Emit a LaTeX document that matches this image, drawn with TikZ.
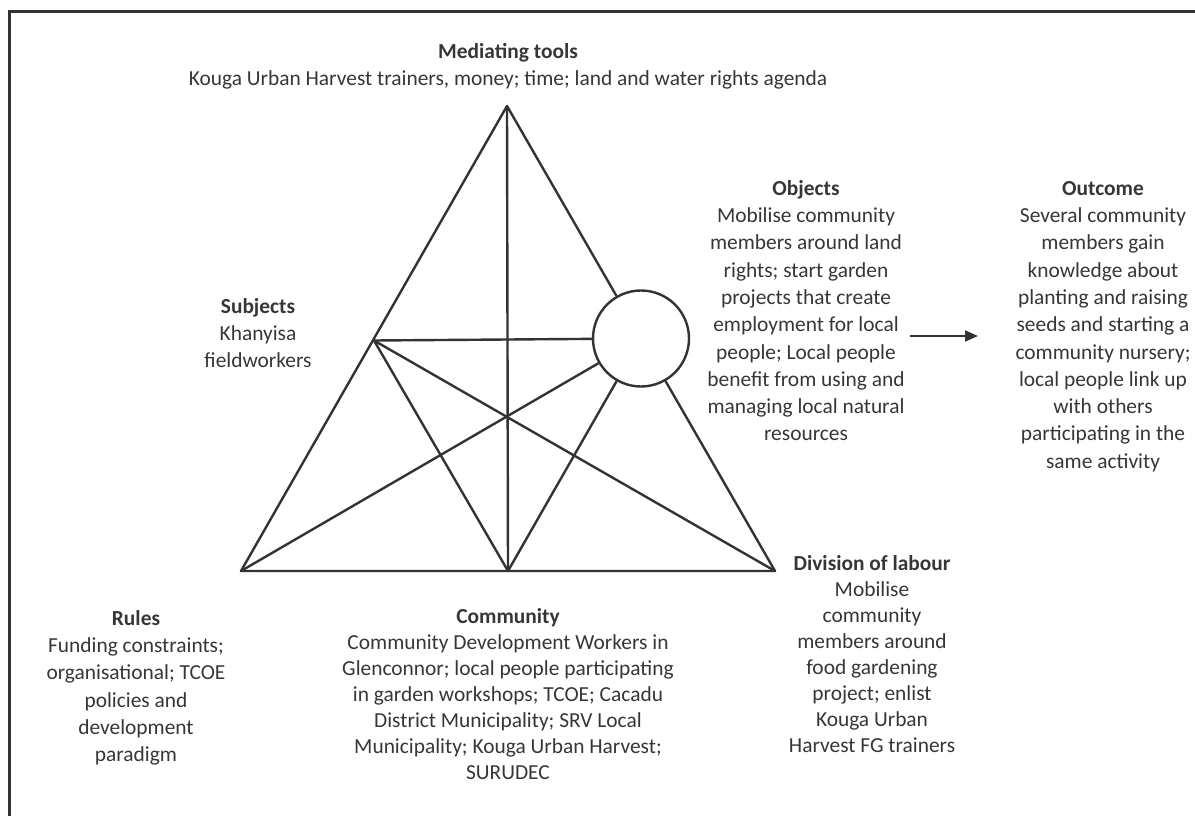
\documentclass[tikz,border=0pt]{standalone}
\usepackage{fontspec}
\setmainfont{Carlito}
\usetikzlibrary{arrows.meta}
\definecolor{ink}{HTML}{333333}
\definecolor{txt}{HTML}{363636}
\newcommand{\topstrut}{\rule{0pt}{15pt}}
\tikzset{
  edge/.style={draw=ink, line width=2.4pt, line join=round},
  label/.style={align=center, inner sep=0pt, anchor=north, text=txt,
    font=\fontsize{21.4}{27.3}\selectfont},
  tight/.style={label, font=\fontsize{21.4}{26}\selectfont},
}
\begin{document}
\begin{tikzpicture}[x=1pt,y=-1pt]
\useasboundingbox (0,0) rectangle (1195,816);
\clip (0,0) rectangle (1195,816);
% outer frame
\draw[draw=ink, line width=3pt] (9,12) rectangle (1220,840);

% activity triangle
\coordinate (A) at (507,106);
\coordinate (L) at (241,571);
\coordinate (R) at (775,571);
\coordinate (M) at (508,571);
\coordinate (S) at (374,340.5);
\node[circle, draw=ink, line width=2.4pt, minimum size=96pt, inner sep=0pt] (O) at (641,338.5) {};

\draw[edge] (O) -- (A) -- (L) -- (R) -- (O);
\draw[edge] (A) -- (M);
\draw[edge] (S) -- (O);
\draw[edge] (S) -- (M);
\draw[edge] (S) -- (R);
\draw[edge] (O) -- (L);
\draw[edge] (O) -- (M);

% labels
\node[label] (tools) at (508,43) {\topstrut\textbf{Mediating tools}\\Kouga Urban Harvest trainers, money; time; land and water rights agenda};
\node[label] (subj) at (258,298) {\topstrut\textbf{Subjects}\\Khanyisa\\fieldworkers};
\node[label] (obj) at (806,180) {\topstrut\textbf{Objects}\\Mobilise community\\members around land\\rights; start garden\\projects that create\\employment for local\\people; Local people\\benefit from using and\\managing local natural\\resources};
\node[label] (out) at (1103,180) {\topstrut\textbf{Outcome}\\Several community\\members gain\\knowledge about\\planting and raising\\seeds and starting a\\community nursery;\\local people link up\\with others\\participating in the\\same activity};
\node[label] (rules) at (136,610) {\topstrut\textbf{Rules}\\Funding constraints;\\organisational; TCOE\\policies and\\development\\paradigm};
\node[tight] (comm) at (508,608) {\topstrut\textbf{Community}\\Community Development Workers in\\Glenconnor; local people participating\\in garden workshops; TCOE; Cacadu\\District Municipality; SRV Local\\Municipality; Kouga Urban Harvest;\\SURUDEC};
\node[tight] (div) at (872,555) {\topstrut\textbf{Division of labour}\\Mobilise\\community\\members around\\food gardening\\project; enlist\\Kouga Urban\\Harvest FG trainers};

% objects lead to outcome
\coordinate (a1) at (910,336);
\coordinate (a2) at (978,336);
\draw[draw=ink, line width=2pt, -{Triangle[length=13pt,width=11pt]}] (a1) -- (a2);
\end{tikzpicture}
\end{document}
